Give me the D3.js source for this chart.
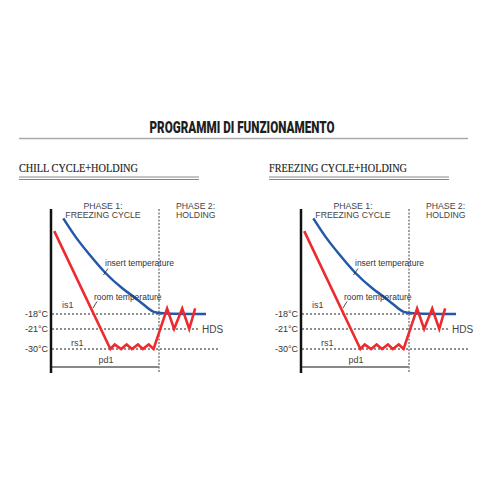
<!DOCTYPE html>
<html>
<head>
<meta charset="utf-8">
<script src="https://cdn.jsdelivr.net/npm/d3@7"></script>
<style>
  body { margin: 0; background: #fff; }
  svg { display: block; }
</style>
</head>
<body>
<div id="chart"></div>
<script>
// chart data
const pageTitle = 'PROGRAMMI DI FUNZIONAMENTO';
const panelTitles = ['CHILL CYCLE+HOLDING', 'FREEZING CYCLE+HOLDING'];
const phaseLabels = [['PHASE 1:', 'FREEZING CYCLE'], ['PHASE 2:', 'HOLDING']];
const levels = [-18, -21, -30];
const levelLabels = ['-18°C', '-21°C', '-30°C'];
const levelNames = ['is1', 'HDS', 'rs1'];
const phaseEnd = 100;  // pd1

// room temperature (time units, °C)
const roomTime = [3, 55, 59, 65, 70, 75, 80.5, 85, 90.5, 95, 107.5, 114, 121.5, 128, 133.5];
const roomTemp = [12, -30, -28, -30, -28, -30, -28, -30, -28, -30, -16, -21, -16, -21, -16];

// insert temperature
const insertTime = [11.4, 22.2, 34.5, 50, 65.5, 80.8, 91.7, 97, 143.5];
const insertTemp = [16.6, 10, 4, -3.3, -8.7, -12.9, -16.6, -18, -18];

const W = 500, H = 500;
const svg = d3.select('#chart').append('svg')
  .attr('width', W).attr('height', H);

// page header
svg.append('text')
  .attr('x', 242).attr('y', 132.5)
  .attr('text-anchor', 'middle')
  .attr('font-family', 'Roboto, "DejaVu Sans Condensed", sans-serif')
  .attr('font-weight', 900)
  .attr('font-size', 16.5)
  .attr('fill', '#1e1e1e')
  .attr('textLength', 185)
  .attr('lengthAdjust', 'spacingAndGlyphs')
  .text(pageTitle);

svg.append('line')
  .attr('x1', 19).attr('x2', 468).attr('y1', 138.5).attr('y2', 138.5)
  .attr('stroke', '#aaa').attr('stroke-width', 1.5);

const x = d3.scaleLinear().domain([0, phaseEnd]).range([51, 159]);
const y = d3.scaleLinear().domain([-30, -21, -18, 20]).range([349, 329, 314, 209]);

const sans = 'Arial, "Liberation Sans", sans-serif';

function drawPanel(g, title, titleX) {
  // panel heading with double rule
  g.append('text')
    .attr('x', titleX).attr('y', 172)
    .attr('font-family', '"Liberation Serif", "Times New Roman", serif')
    .attr('font-size', 11.5)
    .attr('fill', '#1a1a1a')
    .attr('stroke', '#1a1a1a').attr('stroke-width', 0.15)
    .attr('textLength', title.length > 20 ? 138 : 119)
    .attr('lengthAdjust', 'spacingAndGlyphs')
    .text(title);
  [177, 179.5].forEach(yy => {
    g.append('line')
      .attr('x1', titleX).attr('x2', titleX + 180)
      .attr('y1', yy).attr('y2', yy)
      .attr('stroke', '#888').attr('stroke-width', 1);
  });

  const plot = g.append('g').attr('transform', `translate(${titleX - 19},0)`);

  // phase labels
  plot.selectAll('text.ph1')
    .data(phaseLabels[0]).join('text')
    .attr('x', 103).attr('y', (d, i) => 209 + i * 9)
    .attr('text-anchor', 'middle')
    .attr('font-family', sans).attr('font-size', 8.7).attr('fill', '#444')
    .text(d => d);
  plot.selectAll('text.ph2')
    .data(phaseLabels[1]).join('text')
    .attr('x', 176).attr('y', (d, i) => 209 + i * 9)
    .attr('font-family', sans).attr('font-size', 8.7).attr('fill', '#444')
    .text(d => d);

  // dashed level lines
  const lineEnds = [206, 198, 218];
  plot.selectAll('line.level')
    .data(levels).join('line')
    .attr('x1', x(0) + 1).attr('x2', (d, i) => lineEnds[i])
    .attr('y1', d => y(d)).attr('y2', d => y(d))
    .attr('stroke', '#222').attr('stroke-width', 1)
    .attr('stroke-dasharray', '2,2');

  // tick labels
  plot.selectAll('text.tick')
    .data(levels).join('text')
    .attr('x', 48).attr('y', d => y(d) + 3)
    .attr('text-anchor', 'end')
    .attr('font-family', sans).attr('font-size', 9).attr('fill', '#333')
    .text((d, i) => levelLabels[i]);

  // level names
  plot.append('text').attr('x', 62).attr('y', y(levels[0]) - 6)
    .attr('font-family', sans).attr('font-size', 9).attr('fill', '#444')
    .text(levelNames[0]);
  plot.append('text').attr('x', 202).attr('y', y(levels[1]) + 3.5)
    .attr('font-family', sans).attr('font-size', 10).attr('fill', '#444')
    .text(levelNames[1]);
  plot.append('text').attr('x', 71).attr('y', y(levels[2]) - 3)
    .attr('font-family', sans).attr('font-size', 9).attr('fill', '#444')
    .text(levelNames[2]);

  // phase divider
  plot.append('line')
    .attr('x1', x(phaseEnd)).attr('x2', x(phaseEnd))
    .attr('y1', 209).attr('y2', 373)
    .attr('stroke', '#444').attr('stroke-width', 1)
    .attr('stroke-dasharray', '2,1.5');

  // pd1 bar
  plot.append('line')
    .attr('x1', x(0)).attr('x2', x(phaseEnd))
    .attr('y1', 367).attr('y2', 367)
    .attr('stroke', '#888').attr('stroke-width', 2);
  plot.append('text').attr('x', 106).attr('y', 363)
    .attr('text-anchor', 'middle')
    .attr('font-family', sans).attr('font-size', 9).attr('fill', '#444')
    .text('pd1');

  // vertical axis
  plot.append('line')
    .attr('x1', x(0)).attr('x2', x(0))
    .attr('y1', 209).attr('y2', 373)
    .attr('stroke', '#111').attr('stroke-width', 2.5);

  // insert temperature (blue)
  const insertLine = d3.line()
    .x((d, i) => x(insertTime[i]))
    .y(d => y(d))
    .curve(d3.curveBasis);
  plot.append('path')
    .attr('d', insertLine(insertTemp))
    .attr('fill', 'none').attr('stroke', '#2458a8').attr('stroke-width', 2.5);

  // room temperature (red)
  const roomLine = d3.line()
    .x((d, i) => x(roomTime[i]))
    .y(d => y(d));
  plot.append('path')
    .attr('d', roomLine(roomTemp))
    .attr('fill', 'none').attr('stroke', '#ee2a2f').attr('stroke-width', 2.6)
    .attr('stroke-linejoin', 'miter');

  // curve labels with leaders
  plot.append('text').attr('x', 105).attr('y', 266)
    .attr('font-family', sans).attr('font-size', 8.5).attr('fill', '#333')
    .text('insert temperature');
  plot.append('line')
    .attr('x1', 108).attr('y1', 268.5).attr('x2', 103.5).attr('y2', 275)
    .attr('stroke', '#222').attr('stroke-width', 0.8);

  plot.append('text').attr('x', 94).attr('y', 300)
    .attr('font-family', sans).attr('font-size', 8.5).attr('fill', '#333')
    .text('room temperature');
  plot.append('line')
    .attr('x1', 97).attr('y1', 301.5).attr('x2', 93).attr('y2', 308)
    .attr('stroke', '#222').attr('stroke-width', 0.8);
}

drawPanel(svg.append('g'), panelTitles[0], 19);
drawPanel(svg.append('g'), panelTitles[1], 269);
</script>
</body>
</html>
